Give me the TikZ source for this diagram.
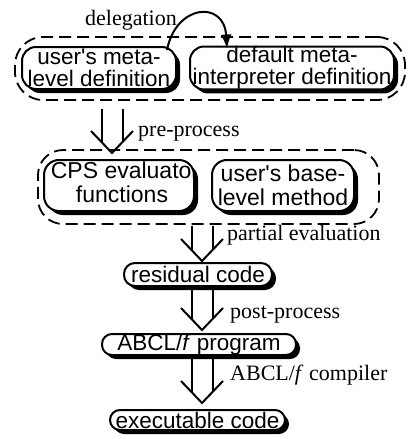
\documentclass[tikz,border=0pt]{standalone}
\usepackage{fontspec}
\setmainfont{Liberation Serif}
\newfontfamily\boxfont{Liberation Sans}
\usetikzlibrary{arrows.meta,shadows,calc}

\tikzset{
  proc/.style={draw=black, line width=2pt, fill=white, inner sep=0pt, align=center,
    font=\boxfont\fontsize{22.5}{22}\selectfont,
    drop shadow={shadow xshift=4pt, shadow yshift=-4pt, opacity=1, fill=black}},
  groupbox/.style={draw=black, line width=1.8pt, dash pattern=on 12pt off 6pt, inner sep=0pt},
  lbl/.style={font=\fontsize{22}{22}\selectfont, inner sep=0pt, anchor=base west},
  pics/flow/.style={code={
    \draw[line width=2pt, line join=miter] (-21,-22) -- (0,0) -- (21,-22);
    \draw[line width=2pt] (-10.5,-#1) -- (-10.5,-11) (10.5,-#1) -- (10.5,-11);
  }}
}

\begin{document}
\begin{tikzpicture}[x=1pt, y=-1pt]
\useasboundingbox (0,0) rectangle (409,439);

% dashed groups
\node[groupbox, minimum width=390pt, minimum height=63pt, rounded corners=28pt] (g1) at (210,68.5) {};
\node[groupbox, minimum width=341pt, minimum height=74pt, rounded corners=25pt] (g2) at (208.5,187) {};

% meta-level definitions
\node[proc, minimum width=154pt, minimum height=42pt, rounded corners=14pt] (A) at (99,68) {user's meta-\\level definition};
\node[proc, minimum width=204pt, minimum height=42pt, rounded corners=14pt] (B) at (292,68) {default meta-\\interpreter definition};

% base-level inputs
\node[proc, minimum width=150pt, minimum height=51pt, rounded corners=15pt,
  path picture={
    \node[font=\boxfont\fontsize{23}{24}\selectfont, anchor=base west, inner sep=0pt]
      at ($(path picture bounding box.north west)+(5,18)$) {CPS evaluator};
    \node[font=\boxfont\fontsize{23}{24}\selectfont, anchor=base, inner sep=0pt]
      at ($(path picture bounding box.north)+(3,42)$) {functions};
  }] (cps) at (119,185.5) {};
\node[proc, minimum width=142pt, minimum height=51pt, rounded corners=15pt,
  font=\boxfont\fontsize{23}{24}\selectfont] (base) at (283,185.5) {user's base-\\level method};

% pipeline stages
\node[proc, minimum width=148pt, minimum height=23pt, rounded corners=11pt] (res) at (198,274.5) {residual code};
\node[proc, minimum width=194pt, minimum height=21pt, rounded corners=10pt] (abcl) at (199,344.5) {ABCL/\textit{f} program};
\node[proc, minimum width=175pt, minimum height=20pt, rounded corners=10pt] (exe) at (197.5,420) {executable code};

% delegation
\draw[line width=2pt, -{Latex[length=14pt,width=11pt]}]
  ($(A.north east)+(-10,4)$) .. controls (176,4) and (224,0) .. ($(B.north west)+(38,3)$);
\node[lbl] (l0) at (85,25) {delegation};

% processing steps
\coordinate (t1) at ($(cps.north)+(-7,-6)$);
\coordinate (t2) at ($(res.north)+(4,-1)$);
\coordinate (t3) at ($(abcl.north)+(3,-3)$);
\coordinate (t4) at ($(exe.north)+(4.5,-6)$);
\pic at (t1) {flow=44};
\pic at (t2) {flow=35};
\pic at (t3) {flow=40};
\pic at (t4) {flow=46};

\node[lbl] (l1) at (138,136) {pre-process};
\node[lbl] (l2) at (227,240) {partial evaluation};
\node[lbl] (l3) at (230,318) {post-process};
\node[lbl] (l4) at (230,380) {ABCL/\textit{f} compiler};
\end{tikzpicture}
\end{document}
